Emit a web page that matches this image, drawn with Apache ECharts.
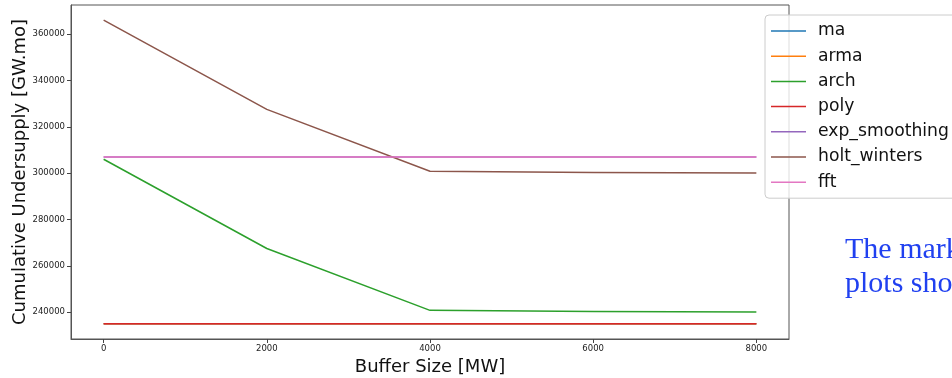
<!DOCTYPE html>
<html>
<head>
<meta charset="utf-8">
<script src="https://cdn.jsdelivr.net/npm/echarts@6/dist/echarts.min.js"></script>
<style>
  html, body { margin: 0; padding: 0; background: #fff; }
  #chart { width: 952px; height: 378px; }
</style>
</head>
<body>
<div id="chart"></div>
<script>
// Buffer sizes (MW) on the x axis
const bufferSizes = [0, 2000, 4000, 6000, 8000];

// Cumulative undersupply (GW.mo) per forecasting model
const ma = [235000, 235000, 235000, 235000, 235000];
const arma = [235000, 235000, 235000, 235000, 235000];
const arch = [306000, 267500, 240800, 240300, 240100];
const poly = [235000, 235000, 235000, 235000, 235000];
const expSmoothing = [307000, 307000, 307000, 307000, 307000];
const holtWinters = [366000, 327500, 300800, 300300, 300100];
const fft = [307000, 307000, 307000, 307000, 307000];

const seriesNames = ['ma', 'arma', 'arch', 'poly', 'exp_smoothing', 'holt_winters', 'fft'];
const seriesValues = [ma, arma, arch, poly, expSmoothing, holtWinters, fft];
const seriesColors = ['#1f77b4', '#ff7f0e', '#2ca02c', '#d62728', '#9467bd', '#8c564b', '#e377c2'];

// Tick positions
const xTicks = [0, 2000, 4000, 6000, 8000];
const yTicks = [240000, 260000, 280000, 300000, 320000, 340000, 360000];

const font = 'DejaVu Sans';

const chart = echarts.init(document.getElementById('chart'), null, { renderer: 'canvas' });

const series = seriesNames.map((name, i) => ({
  name: name,
  type: 'line',
  data: bufferSizes.map((x, j) => [x, seriesValues[i][j]]),
  symbol: 'none',
  lineStyle: { width: 1.5, color: seriesColors[i] },
  itemStyle: { color: seriesColors[i] },
  z: 2 + i,
  animation: false
}));

chart.setOption({
  animation: false,
  backgroundColor: '#ffffff',
  grid: {
    left: 71, top: 5, right: 163, bottom: 39,
    show: true, borderColor: '#555', borderWidth: 1,
    containLabel: false,
    outerBoundsMode: 'none'
  },
  xAxis: {
    type: 'value',
    min: -400, max: 8400,
    name: 'Buffer Size [MW]',
    nameLocation: 'middle',
    nameGap: 19,
    nameMoveOverlap: false,
    nameTextStyle: { fontFamily: font, fontSize: 18, color: '#111' },
    axisLine: { show: true, onZero: false, lineStyle: { color: '#555', width: 1 } },
    splitLine: { show: false },
    axisTick: { show: true, customValues: xTicks, length: 4, lineStyle: { color: '#444' } },
    axisLabel: {
      customValues: xTicks,
      formatter: v => String(v),
      fontFamily: font, fontSize: 8.5, color: '#222', margin: 5
    }
  },
  yAxis: {
    type: 'value',
    min: 228450, max: 372550,
    name: 'Cumulative Undersupply [GW.mo]',
    nameLocation: 'middle',
    nameGap: 42,
    nameMoveOverlap: false,
    nameRotate: 90,
    nameTextStyle: { fontFamily: font, fontSize: 18, color: '#111' },
    axisLine: { show: true, onZero: false, lineStyle: { color: '#555', width: 1 } },
    splitLine: { show: false },
    axisTick: { show: true, customValues: yTicks, length: 4, lineStyle: { color: '#444' } },
    axisLabel: {
      customValues: yTicks,
      formatter: v => String(v),
      fontFamily: font, fontSize: 8.5, color: '#222', margin: 6
    }
  },
  legend: {
    data: seriesNames,
    orient: 'vertical',
    left: 765, top: 15,
    padding: [6, 10, 6, 6],
    backgroundColor: 'rgba(255,255,255,0.8)',
    borderColor: '#cccccc',
    borderWidth: 1,
    borderRadius: 4,
    icon: 'rect',
    itemWidth: 35,
    itemHeight: 1.5,
    itemGap: 5.2,
    textStyle: { fontFamily: font, fontSize: 17.2, color: '#111', lineHeight: 20, padding: [0, 0, 0, 7] },
    selectedMode: false
  },
  graphic: [
    {
      type: 'text',
      left: 845, top: 233,
      style: {
        text: 'The markers\nplots show',
        fontFamily: 'Liberation Serif',
        fontSize: 30,
        lineHeight: 34,
        fill: '#2040f0'
      },
      z: 20
    }
  ],
  series: series
});
</script>
</body>
</html>
